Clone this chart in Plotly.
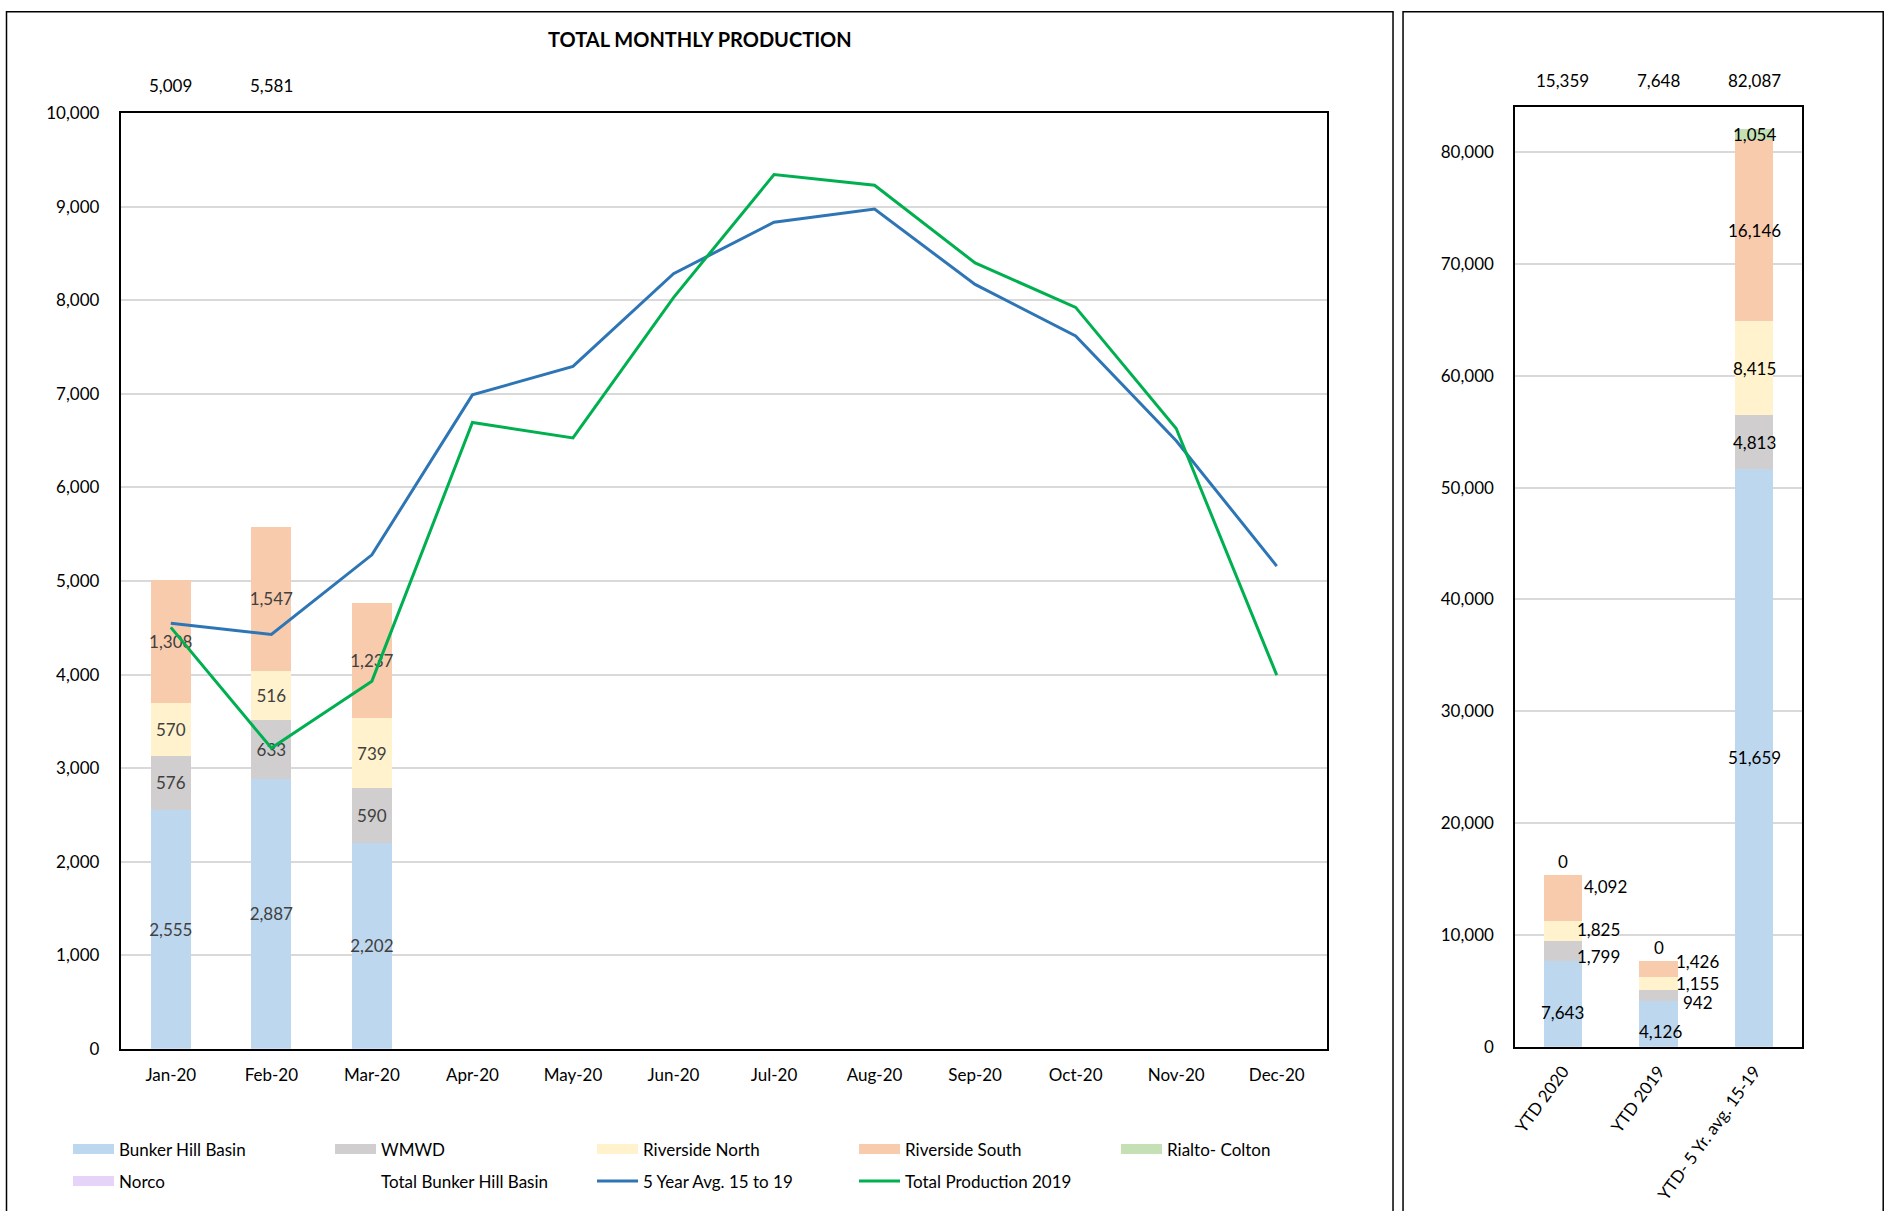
import plotly.graph_objects as go

# ---------------- data ----------------
months = ["Jan-20", "Feb-20", "Mar-20", "Apr-20", "May-20", "Jun-20",
          "Jul-20", "Aug-20", "Sep-20", "Oct-20", "Nov-20", "Dec-20"]
bunker_hill = [2555, 2887, 2202] + [None] * 9
wmwd = [576, 633, 590] + [None] * 9
riverside_north = [570, 516, 739] + [None] * 9
riverside_south = [1308, 1547, 1237] + [None] * 9
rialto_colton = [0, 0, 0] + [None] * 9
norco = [0, 0, 0] + [None] * 9
total_bunker_hill = [5009, 5581] + [None] * 10
avg_5yr = [4550, 4430, 5280, 6990, 7295, 8285, 8835, 8975, 8170, 7620, 6500, 5160]
total_2019 = [4505, 3215, 3930, 6695, 6530, 8030, 9345, 9230, 8400, 7925, 6630, 3995]

ytd_cats = ["YTD 2020", "YTD 2019", "YTD- 5 Yr. avg. 15-19"]
ytd_bunker_hill = [7643, 4126, 51659]
ytd_wmwd = [1799, 942, 4813]
ytd_riverside_north = [1825, 1155, 8415]
ytd_riverside_south = [4092, 1426, 16146]
ytd_rialto_colton = [0, 0, 1054]
ytd_norco = [0, 0, 0]
ytd_totals = [15359, 7648, 82087]

# ---------------- style ----------------
FONT = "Lato"
FS = 17
W, H = 1885, 1211
# calibration of the photographed page (offset / scale)
H_OFF, H_SCALE = 3.5, 0.9975
V_OFF, V_SCALE = 8.4, 0.9862


def px(x):   # target pixel -> paper x
    return ((x - H_OFF) / H_SCALE) / W


def py(y):   # target pixel -> paper y
    return 1 - ((y - V_OFF) / V_SCALE) / H


colors = {
    "Bunker Hill Basin": "#BDD7EE",
    "WMWD": "#D0CECE",
    "Riverside North": "#FFF2CC",
    "Riverside South": "#F8CBAD",
    "Rialto- Colton": "#C5E0B4",
    "Norco": "#E6D3F8",
}
left_dom_x = [px(120), px(1326)]
left_dom_y = [py(1050), py(111)]
right_dom_x = [px(1514), px(1801)]
right_dom_y = [py(1048), py(105)]

fig = go.Figure()


def fmt(v):
    return f"{v:,.0f}"


left_series = [
    ("Bunker Hill Basin", bunker_hill),
    ("WMWD", wmwd),
    ("Riverside North", riverside_north),
    ("Riverside South", riverside_south),
    ("Rialto- Colton", rialto_colton),
    ("Norco", norco),
]
for name, vals in left_series:
    fig.add_trace(go.Bar(
        x=months, y=vals, name=name, showlegend=False, legendgroup=name,
        marker=dict(color=colors[name], line=dict(width=0)),
        text=[fmt(v) if v else "" for v in vals],
        textposition="inside", insidetextanchor="middle", textangle=0,
        constraintext="none",
        textfont=dict(family=FONT, size=FS, color="#404040"),
        xaxis="x", yaxis="y", hoverinfo="skip",
    ))
    # legend proxy (wide swatch like the source legend)
    fig.add_trace(go.Scatter(
        x=[None], y=[None], name=name, legendgroup=name, mode="lines",
        line=dict(color=colors[name], width=11),
        legend="legend" if name != "Norco" else "legend2",
        xaxis="x", yaxis="y", hoverinfo="skip",
    ))

fig.add_trace(go.Scatter(
    x=months, y=total_bunker_hill, name="Total Bunker Hill Basin",
    mode="lines", line=dict(color="rgba(0,0,0,0)", width=0),
    legend="legend2", xaxis="x", yaxis="y", hoverinfo="skip",
))
fig.add_trace(go.Scatter(
    x=months, y=avg_5yr, name="5 Year Avg. 15 to 19",
    mode="lines", line=dict(color="#2E75B6", width=3),
    legend="legend2", xaxis="x", yaxis="y",
))
fig.add_trace(go.Scatter(
    x=months, y=total_2019, name="Total Production 2019",
    mode="lines", line=dict(color="#00B050", width=3),
    legend="legend2", xaxis="x", yaxis="y",
))

# right chart
right_series = [
    ("Bunker Hill Basin", ytd_bunker_hill),
    ("WMWD", ytd_wmwd),
    ("Riverside North", ytd_riverside_north),
    ("Riverside South", ytd_riverside_south),
    ("Rialto- Colton", ytd_rialto_colton),
    ("Norco", ytd_norco),
]
for name, vals in right_series:
    fig.add_trace(go.Bar(
        x=ytd_cats, y=vals, name=name, showlegend=False,
        marker=dict(color=colors[name], line=dict(width=0)),
        xaxis="x2", yaxis="y2", hoverinfo="skip",
    ))

annotations = []
# right chart data-label placement (pixel nudges, as the source lays them out)
label_xshift = {"Bunker Hill Basin": [0, 2, 0], "WMWD": [36, 39, 0],
                "Riverside North": [36, 39, 0], "Riverside South": [43, 39, 0],
                "Rialto- Colton": [0, 0, 0]}
label_yshift = {"Bunker Hill Basin": [-8, -8, 0], "WMWD": [-5, -7, 0],
                "Riverside North": [2, 0, 0], "Riverside South": [11, 8, 0],
                "Rialto- Colton": [14, 14, 0]}
base = [0, 0, 0]
for name, vals in right_series:
    for i, v in enumerate(vals):
        if name == "Norco":
            continue
        if v == 0:
            if name == "Rialto- Colton":
                annotations.append(dict(x=ytd_cats[i], y=base[i], xref="x2", yref="y2",
                                        text="0", showarrow=False,
                                        yshift=label_yshift[name][i],
                                        font=dict(family=FONT, size=FS, color="black")))
        else:
            annotations.append(dict(x=ytd_cats[i], y=base[i] + v / 2, xref="x2", yref="y2",
                                    text=fmt(v), showarrow=False,
                                    xshift=label_xshift[name][i],
                                    yshift=label_yshift[name][i],
                                    font=dict(family=FONT, size=FS, color="black")))
        base[i] += v

for i, t in enumerate(ytd_totals):
    annotations.append(dict(x=ytd_cats[i], y=1, xref="x2", yref="y2 domain",
                            text=fmt(t), showarrow=False, yshift=27, yanchor="middle",
                            font=dict(family=FONT, size=FS, color="black")))
for i, t in enumerate(total_bunker_hill):
    if t is not None:
        annotations.append(dict(x=months[i], y=1, xref="x", yref="y domain",
                                text=fmt(t), showarrow=False, yshift=28, yanchor="middle",
                                font=dict(family=FONT, size=FS, color="black")))

annotations.append(dict(x=px(699), y=py(37), xref="paper", yref="paper",
                        text="<b>TOTAL MONTHLY PRODUCTION</b>", showarrow=False,
                        xanchor="center", yanchor="middle",
                        font=dict(family=FONT, size=20, color="black")))

shapes = [
    dict(type="rect", xref="paper", yref="paper", x0=px(6), x1=px(1392), y0=-0.05, y1=1 - 0.8 / H,
         line=dict(color="black", width=1.5)),
    dict(type="rect", xref="paper", yref="paper", x0=px(1402), x1=px(1882), y0=-0.05, y1=1 - 0.8 / H,
         line=dict(color="black", width=1.5)),
]

axis_common = dict(showline=True, linecolor="black", linewidth=1.5, mirror=True,
                   tickfont=dict(family=FONT, size=FS, color="black"), ticks="")

legend_common = dict(orientation="h", xanchor="left", yanchor="middle",
                     entrywidth=206, entrywidthmode="pixels", traceorder="normal",
                     itemwidth=41, font=dict(family=FONT, size=17, color="black"),
                     bgcolor="rgba(0,0,0,0)")

fig.update_layout(
    width=W, height=H,
    margin=dict(l=0, r=0, t=0, b=0),
    paper_bgcolor="white", plot_bgcolor="white",
    barmode="stack", bargap=0.6,
    font=dict(family=FONT, size=FS, color="black"),
    xaxis=dict(domain=left_dom_x, anchor="y", categoryorder="array", categoryarray=months,
               showgrid=False, ticklabelstandoff=10, **axis_common),
    yaxis=dict(domain=left_dom_y, anchor="x", range=[0, 10000], dtick=1000,
               tickformat=",d", showgrid=True, gridcolor="#D9D9D9", gridwidth=1.5,
               ticklabelstandoff=16, zeroline=False, **axis_common),
    xaxis2=dict(domain=right_dom_x, anchor="y2", categoryorder="array", categoryarray=ytd_cats,
                showgrid=False, tickangle=-54, ticklabelstandoff=6, **axis_common),
    yaxis2=dict(domain=right_dom_y, anchor="x2", range=[0, 84000], dtick=10000,
                tickformat=",d", showgrid=True, gridcolor="#D9D9D9", gridwidth=1.5,
                ticklabelstandoff=16, zeroline=False, **axis_common),
    legend=dict(x=px(67.5), y=py(1151), **legend_common),
    legend2=dict(x=px(67.5), y=py(1183), **legend_common),
    annotations=annotations,
    shapes=shapes,
)

fig.write_html("out.html", config={"displayModeBar": False},
               post_script="document.body.style.margin='0';document.body.style.overflow='hidden';")
